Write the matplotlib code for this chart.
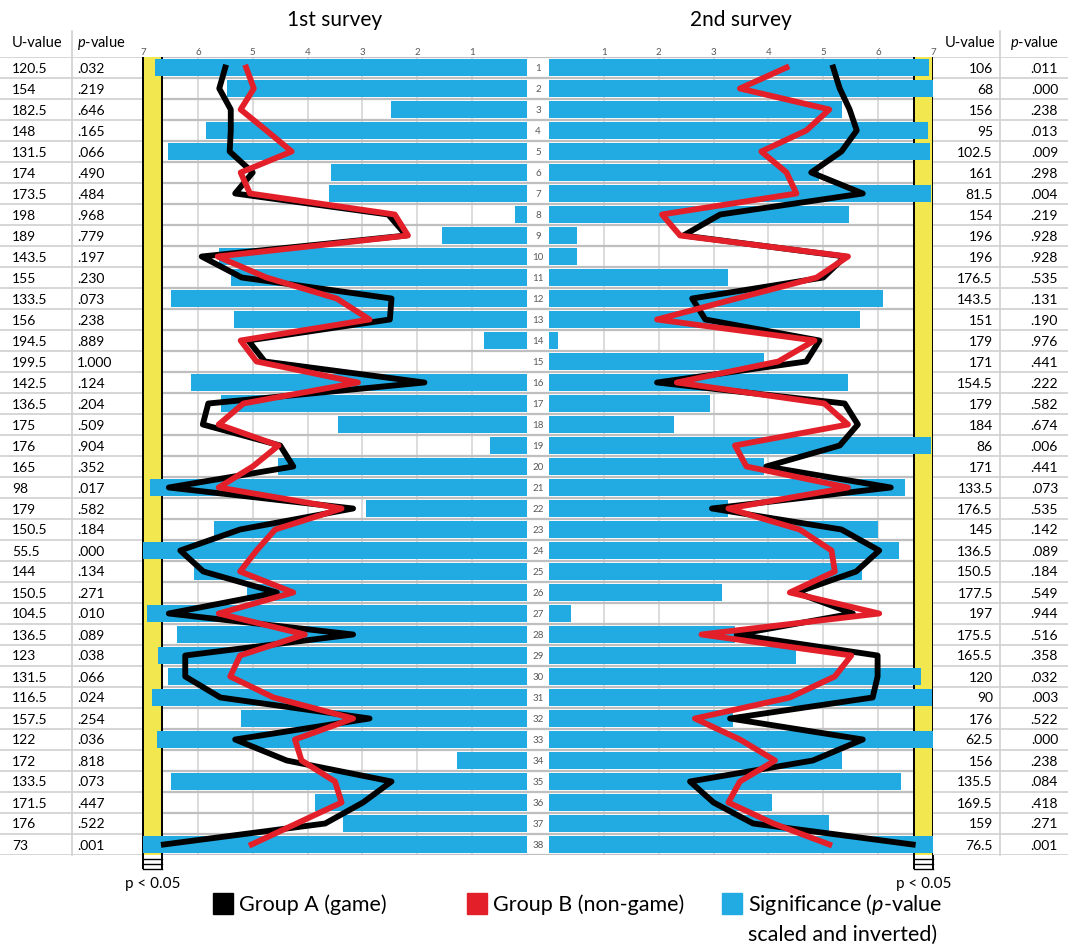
"""
Two-survey comparison: group means per item with Mann-Whitney significance bars
"""

import numpy as np
import matplotlib
matplotlib.use("Agg")
import matplotlib.pyplot as plt
from matplotlib.patches import Rectangle

plt.rcParams['font.family'] = ['Lato', 'DejaVu Sans']
plt.rcParams['mathtext.fontset'] = 'custom'
plt.rcParams['mathtext.rm'] = 'Lato'
plt.rcParams['mathtext.it'] = 'Lato:italic'

# ---- data ------------------------------------------------------------------
items = list(range(1, 39))

u_first = [120.5, 154, 182.5, 148, 131.5, 174, 173.5, 198, 189, 143.5, 155, 133.5,
           156, 194.5, 199.5, 142.5, 136.5, 175, 176, 165, 98, 179, 150.5, 55.5,
           144, 150.5, 104.5, 136.5, 123, 131.5, 116.5, 157.5, 122, 172, 133.5,
           171.5, 176, 73]
p_first = [.032, .219, .646, .165, .066, .490, .484, .968, .779, .197, .230, .073,
           .238, .889, 1.000, .124, .204, .509, .904, .352, .017, .582, .184, .000,
           .134, .271, .010, .089, .038, .066, .024, .254, .036, .818, .073, .447,
           .522, .001]
game_first = [5.50, 5.61, 5.40, 5.40, 5.42, 5.00, 5.32, 2.53, 2.20, 5.93, 5.20, 2.47,
              2.50, 5.08, 4.78, 1.87, 5.81, 5.91, 4.50, 4.26, 6.53, 3.17, 5.23, 6.32,
              5.90, 4.56, 6.53, 3.17, 6.23, 6.23, 5.59, 2.87, 5.32, 4.38, 2.47, 2.99,
              3.68, 6.62]
nongame_first = [5.12, 4.98, 5.22, 4.75, 4.29, 5.22, 5.05, 2.41, 2.17, 5.64, 4.75, 3.47,
                 2.87, 5.22, 4.93, 3.08, 5.17, 5.62, 4.53, 5.00, 5.62, 3.38, 4.59, 4.93,
                 5.23, 4.26, 5.62, 4.05, 5.23, 5.41, 4.62, 3.17, 4.23, 4.11, 3.50, 3.38,
                 4.20, 5.02]

u_second = [106, 68, 156, 95, 102.5, 161, 81.5, 154, 196, 196, 176.5, 143.5, 151, 179,
            171, 154.5, 179, 184, 86, 171, 133.5, 176.5, 145, 136.5, 150.5, 177.5, 197,
            175.5, 165.5, 120, 90, 176, 62.5, 156, 135.5, 169.5, 159, 76.5]
p_second = [.011, .000, .238, .013, .009, .298, .004, .219, .928, .928, .535, .131,
            .190, .976, .441, .222, .582, .674, .006, .441, .073, .535, .142, .089,
            .184, .549, .944, .516, .358, .032, .003, .522, .000, .238, .084, .418,
            .271, .001]
game_second = [5.18, 5.30, 5.48, 5.61, 5.33, 4.78, 5.72, 3.12, 2.45, 5.40, 5.00, 2.61,
               2.85, 4.93, 4.69, 1.97, 5.39, 5.63, 5.30, 3.96, 6.23, 2.97, 5.33, 6.02,
               5.60, 4.51, 5.54, 3.42, 5.99, 5.99, 5.90, 3.30, 5.72, 4.81, 2.57, 3.00,
               3.72, 6.63]
nongame_second = [4.33, 3.48, 5.11, 4.69, 3.87, 4.33, 4.51, 2.06, 2.39, 5.45, 4.88, 3.42,
                  1.97, 4.84, 4.18, 2.33, 5.02, 5.45, 3.39, 3.60, 5.45, 3.27, 4.57, 5.15,
                  5.21, 4.39, 6.02, 2.78, 5.51, 5.21, 4.39, 2.66, 3.48, 4.12, 3.48, 3.27,
                  4.09, 5.11]

SCALE = 7          # Likert scale maximum
ALPHA = 0.05

BLUE = '#21ABE2'
YELLOW = '#F2E74F'
RED = '#E3202A'
GRID_H = '#bfbfbf'
GRID_V = '#d9d9d9'
TXT_GRAY = '#595959'

# ---- layout (pixels of the 1068x945 output) ---------------------------------
W, H = 1068, 945
TOP, BOT = 58, 856

fig = plt.figure(figsize=(W / 100, H / 100), dpi=100)


def add_ax(x0, x1):
    ax = fig.add_axes([x0 / W, 1 - BOT / H, (x1 - x0) / W, (BOT - TOP) / H])
    ax.set_ylim(len(items) + 0.5, 0.5)
    ax.set_yticks([])
    for s in ax.spines.values():
        s.set_visible(False)
    return ax


def fmt_p(p):
    s = f"{p:.3f}"
    return s[1:] if s.startswith("0") else s


def draw_panel(ax, pvals, game, nongame, title, left):
    rows = np.array(items)
    sig = SCALE * (1 - np.array(pvals))
    thr = SCALE * (1 - ALPHA)
    ax.set_xlim((SCALE, 0) if left else (0, SCALE))

    for v in range(1, SCALE):
        ax.axvline(v, color=GRID_V, lw=1.3, zorder=0.8)
    for y in np.arange(0.5, len(items) + 1):
        ax.axhline(y, color=GRID_H, lw=1.6, zorder=1.0)

    # significance band + little ladder below it
    ax.axvspan(thr, SCALE, color=YELLOW, lw=0, zorder=1.2)
    for xv in (thr, SCALE):
        ax.plot([xv, xv], [0.5, 39.15], color='black', lw=1.4,
                clip_on=False, zorder=1.3, solid_capstyle='butt')
    for yv in (38.7, 38.95, 39.15):
        ax.plot([thr, SCALE], [yv, yv], color='black', lw=1.0, clip_on=False)
    ax.text((thr + SCALE) / 2, 39.85, 'p < 0.05', ha='center', va='center',
            fontsize=11, clip_on=False)

    ax.barh(rows, sig, height=0.82, color=BLUE, zorder=2)
    ax.plot(game, rows, color='black', lw=4.2, zorder=3)
    ax.plot(nongame, rows, color=RED, lw=4.2, zorder=4)

    ax.xaxis.tick_top()
    ax.set_xticks(range(1, SCALE + 1))
    ax.tick_params(axis='x', length=0, labelsize=7, labelcolor=TXT_GRAY, pad=1)
    ax.text(0.5, 1.048, title, transform=ax.transAxes, ha='center',
            va='center', fontsize=15)


def draw_table(ax, uvals, pvals, left):
    ax.set_xlim(0, 1)
    ax.set_xticks([])
    for y in np.arange(0.5, len(items) + 1):
        ax.axhline(y, color='#d0d0d0', lw=1.2)
    if left:
        sep, ux, px_, ha = 0.50, 0.084, 0.54, 'left'
        uh, ph = 0.084, 0.54
    else:
        sep, ux, px_, ha = 0.496, 0.444, 0.926, 'right'
        uh, ph = 0.09, 0.57
    ax.plot([sep, sep], [-0.75, len(items) + 0.5], color='#d0d0d0', lw=1.2,
            clip_on=False)
    ax.text(uh, -0.22, 'U-value', ha='left', va='center', fontsize=10.5,
            clip_on=False)
    ax.text(ph, -0.22, r'$\it{p}$-value', ha='left', va='center', fontsize=10.5,
            clip_on=False)
    for r, u, p in zip(items, uvals, pvals):
        ax.text(ux, r, f"{u:g}", ha=ha, va='center', fontsize=10)
        ax.text(px_, r, fmt_p(p), ha=ha, va='center', fontsize=10)


tab_l = add_ax(0, 143)
ax_l = add_ax(143, 527)
mid = add_ax(527, 549)
ax_r = add_ax(549, 933)
tab_r = add_ax(933, 1068)

draw_table(tab_l, u_first, p_first, True)
draw_table(tab_r, u_second, p_second, False)
draw_panel(ax_l, p_first, game_first, nongame_first, '1st survey', True)
draw_panel(ax_r, p_second, game_second, nongame_second, '2nd survey', False)

mid.set_xlim(0, 1)
mid.set_xticks([])
for y in np.arange(0.5, len(items) + 1):
    mid.axhline(y, color=GRID_H, lw=1.6)
for r in items:
    mid.text(0.5, r, str(r), ha='center', va='center', fontsize=7, color=TXT_GRAY)

# ---- legend ----------------------------------------------------------------
legend = [('black', ['Group A (game)'], 213),
          (RED, ['Group B (non-game)'], 467),
          (BLUE, ['Significance ($\\it{p}$-value', 'scaled and inverted)'], 722)]
for color, lines, x in legend:
    fig.add_artist(Rectangle((x / W, 1 - 915 / H), 20 / W, 21 / H,
                             transform=fig.transFigure, color=color))
    for k, line in enumerate(lines):
        fig.text((x + 26) / W, 1 - (905 + 30 * k) / H, line, ha='left',
                 va='center', fontsize=15.5)

fig.savefig('out.png', dpi=100)
